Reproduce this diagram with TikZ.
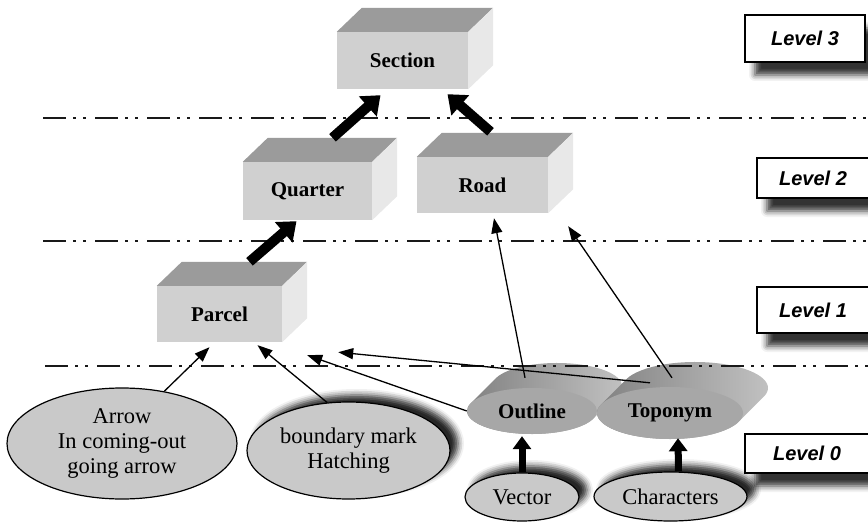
\documentclass[tikz,border=0pt]{standalone}
\usepackage{fontspec}
\setmainfont{Liberation Serif}
\newfontfamily\levelfont{Liberation Sans}
\usetikzlibrary{arrows.meta,shapes.geometric,shadows.blur,calc}

\definecolor{boxfront}{HTML}{D0D0D0}
\definecolor{boxtop}{HTML}{9B9B9B}
\definecolor{boxside}{HTML}{E8E8E8}
\definecolor{ovalfill}{HTML}{C9C9C9}
\definecolor{discfront}{HTML}{A7A7A7}
\definecolor{discdark}{HTML}{7E7E7E}
\definecolor{disclight}{HTML}{C4C4C4}

\begin{document}
\begin{tikzpicture}[x=1pt,y=-1pt,
  blockbox/.style={fill=boxfront, inner sep=0pt, font=\fontsize{21}{24}\selectfont\bfseries},
  oval/.style={ellipse, draw=black, line width=1.2pt, fill=ovalfill, inner sep=0pt, align=center,
    font=\fontsize{22.5}{25}\selectfont},
  ovalshadow/.style={blur shadow={shadow xshift=8pt, shadow yshift=7pt, shadow blur radius=6pt, shadow opacity=85}},
  disc/.style={ellipse, fill=discfront, inner sep=0pt, font=\fontsize{21}{24}\selectfont\bfseries},
  levelbox/.style={draw=black, line width=1.4pt, fill=white, inner sep=0pt,
    font=\levelfont\bfseries\itshape\fontsize{20}{24}\selectfont,
    blur shadow={shadow xshift=10pt, shadow yshift=-13pt, shadow blur radius=6pt, shadow opacity=80}},
  levelline/.style={line width=1.4pt, draw=black!90, dash pattern=on 23pt off 7pt on 3pt off 7pt on 3pt off 9pt},
  heavy/.style={line width=10pt, -{Triangle[width=26pt,length=17pt]}},
  heavysmall/.style={line width=7pt, -{Triangle[width=18pt,length=13pt]}},
  link/.style={line width=1.3pt, -{Triangle[width=11pt,length=15pt]}},
]
\useasboundingbox (0,0) rectangle (868,524);

% level 0 ovals
\node[oval, minimum width=230pt, minimum height=111pt] (arrowoval) at (122,443.5)
  {Arrow\\In coming-out\\going arrow};
\node[oval, ovalshadow, minimum width=203pt, minimum height=97pt] (boundary) at (348.5,450.5)
  {boundary mark\\Hatching};
\node[oval, ovalshadow, minimum width=114pt, minimum height=48pt] (vector) at (522,497) {Vector};
\node[oval, ovalshadow, minimum width=153pt, minimum height=49pt] (characters) at (670.5,496.5) {Characters};

% 3D blocks: front faces
\node[blockbox, minimum width=131pt, minimum height=57pt] (section) at (402.5,60.5) {Section};
\node[blockbox, minimum width=129pt, minimum height=58pt] (quarter) at (307.5,191) {Quarter};
\node[blockbox, minimum width=131pt, minimum height=56pt] (road) at (482.5,185) {Road};
\node[blockbox, minimum width=125pt, minimum height=56pt] (parcel) at (219.5,314) {Parcel};

% 3D blocks: top and side faces
\foreach \b in {section,quarter,road,parcel}{
  \fill[boxtop] (\b.north west) -- ++(25,-24) -- ($(\b.north east)+(25,-24)$) -- (\b.north east) -- cycle;
  \fill[boxside] (\b.north east) -- ++(25,-24) -- ($(\b.south east)+(25,-24)$) -- (\b.south east) -- cycle;
}

% extruded discs
\shade[left color=discdark, right color=disclight]
  ($(532,411)+(19.5:65 and 23)$) arc[start angle=19.5, end angle=199.5, x radius=65, y radius=23]
  -- ++(25,-25) arc[start angle=199.5, end angle=379.5, x radius=65, y radius=23] -- cycle;
\node[disc, minimum width=130pt, minimum height=46pt] (outline) at (532,411) {Outline};
\shade[left color=discdark, right color=disclight]
  ($(670,413)+(19.6:73 and 26)$) arc[start angle=19.6, end angle=199.6, x radius=73, y radius=26]
  -- ++(25,-25) arc[start angle=199.6, end angle=379.6, x radius=73, y radius=26] -- cycle;
\node[disc, minimum width=146pt, minimum height=52pt] (toponym) at (670,413) {Toponym};

% level separators
\draw[levelline] (43,118) -- (868,118);
\draw[levelline] (43,241) -- (868,241);
\draw[levelline] (45,366) -- (868,366);

% heavy arrows between blocks
\draw[heavy] ([shift={(25,-24)}]quarter.north) -- ([shift={(-22,6)}]section.south);
\draw[heavy] ([shift={(8,-25)}]road.north) -- ([shift={(45,5)}]section.south);
\draw[heavy] ([shift={(30,-24)}]parcel.north) -- ([shift={(-11,1)}]quarter.south);
\draw[heavysmall] (vector.north) -- ([xshift=-10pt,yshift=-2pt]outline.south);
\draw[heavysmall] ([xshift=8pt]characters.north) -- ([xshift=8pt,yshift=1pt]toponym.south);

% thin links
\draw[link] (arrowoval.51) -- ([shift={(-10,5)}]parcel.south);
\draw[link] (boundary.114) -- ([shift={(38,3)}]parcel.south);
\draw[link] (outline.west) -- ([shift={(25,13)}]parcel.south east);
\draw[link] ([shift={(-20,-4)}]toponym.north) -- ([shift={(56,10)}]parcel.south east);
\draw[link] ([shift={(-7,-10)}]outline.north) -- ([shift={(11.5,5)}]road.south);
\draw[link] ([shift={(2,-9)}]toponym.north) -- ([shift={(20,13)}]road.south east);

% level labels
\node[levelbox, minimum width=120pt, minimum height=47pt] (lv3) at (805,38.5) {Level 3};
\node[levelbox, minimum width=112pt, minimum height=40pt] (lv2) at (813,178) {Level 2};
\node[levelbox, minimum width=112pt, minimum height=46pt] (lv1) at (813,310) {Level 1};
\node[levelbox, minimum width=124pt, minimum height=39pt] (lv0) at (807,453.5) {Level 0};
\end{tikzpicture}
\end{document}
